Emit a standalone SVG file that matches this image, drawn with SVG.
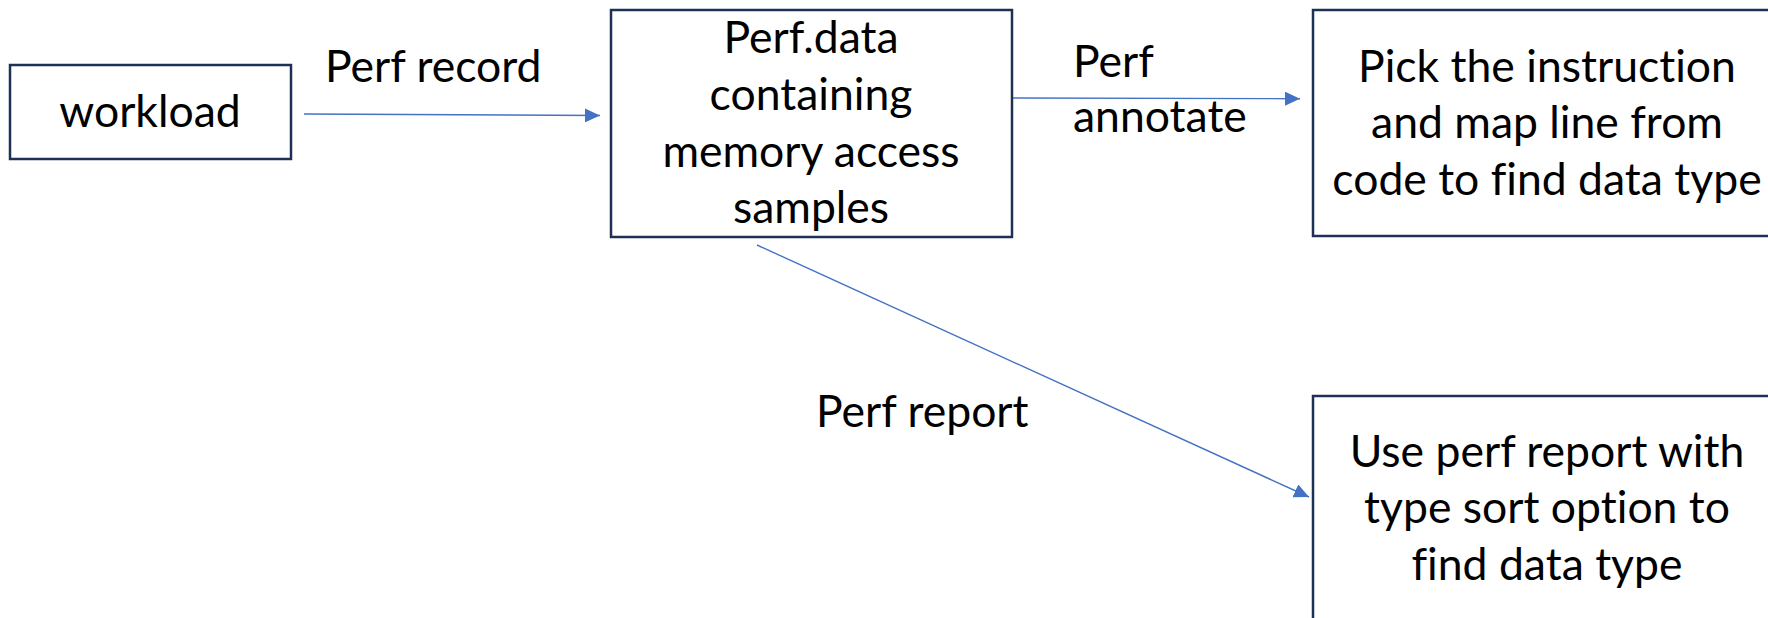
<svg xmlns="http://www.w3.org/2000/svg" width="1768" height="618" viewBox="0 0 1768 618">
  <style>
    .box { fill: #ffffff; stroke: #1f3056; stroke-width: 2.5; }
    .txt { font-family: Lato, "Liberation Sans", sans-serif; font-size: 44.5px; fill: #000000; font-variant-ligatures: none; }
    .mid { text-anchor: middle; }
    .edge { fill: none; stroke: #4472c4; stroke-width: 1.4; marker-end: url(#arrow); }
  </style>
  <defs>
    <marker id="arrow" markerUnits="userSpaceOnUse" viewBox="0 0 15 14" refX="15" refY="7" markerWidth="15" markerHeight="14" orient="auto">
      <path d="M0,0 L15,7 L0,14 Z" fill="#4472c4"/>
    </marker>
  </defs>
  <rect width="1768" height="618" fill="#ffffff"/>

  <g id="connectors">
    <line class="edge" x1="304" y1="114" x2="600" y2="115.5"/>
    <line class="edge" x1="1004" y1="98" x2="1300" y2="98.7"/>
    <line class="edge" x1="757" y1="245" x2="1309" y2="497"/>
    <text class="txt" x="325" y="82">Perf record</text>
    <text class="txt" x="1073" y="77">Perf</text>
    <text class="txt" x="1073" y="132">annotate</text>
    <text class="txt" x="816" y="427">Perf report</text>
  </g>

  <g id="workload">
    <rect class="box" x="10" y="65" width="281" height="94"/>
    <text class="txt mid" x="150" y="127">workload</text>
  </g>

  <g id="perf-data">
    <rect class="box" x="611" y="10" width="401" height="227"/>
    <text class="txt mid" x="811" y="53">Perf.data</text>
    <text class="txt mid" x="811" y="110">containing</text>
    <text class="txt mid" x="811" y="167">memory access</text>
    <text class="txt mid" x="811" y="223">samples</text>
  </g>

  <g id="annotate-result">
    <rect class="box" x="1313" y="10" width="470" height="226"/>
    <text class="txt mid" x="1547" y="82">Pick the instruction</text>
    <text class="txt mid" x="1547" y="138">and map line from</text>
    <text class="txt mid" x="1547" y="195">code to find data type</text>
  </g>

  <g id="report-result">
    <rect class="box" x="1313" y="396" width="470" height="240"/>
    <text class="txt mid" x="1547" y="467">Use perf report with</text>
    <text class="txt mid" x="1547" y="523">type sort option to</text>
    <text class="txt mid" x="1547" y="580">find data type</text>
  </g>
</svg>
